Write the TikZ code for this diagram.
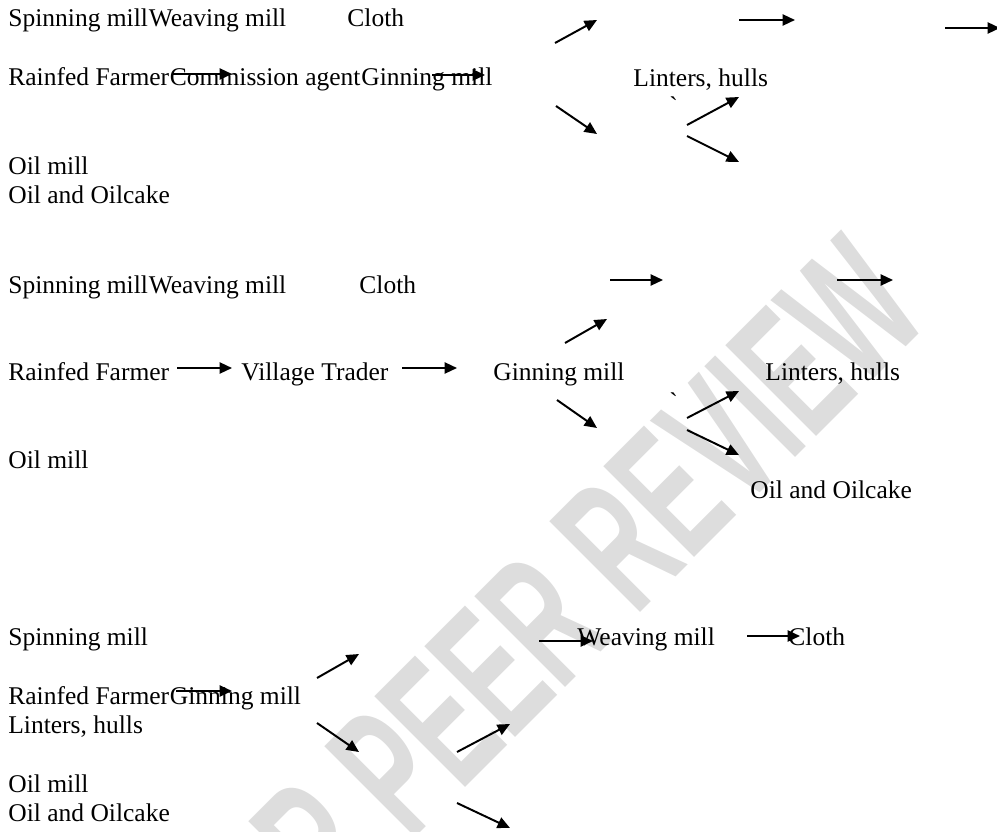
\documentclass[tikz,border=0pt]{standalone}
\usepackage{fontspec}
\setmainfont{Liberation Serif}
\newfontfamily\gravefont{Liberation Serif}[Ligatures=TeXOff]
\newfontfamily\stampfont{Liberation Sans}
\usetikzlibrary{arrows.meta,positioning}
\definecolor{stampgray}{HTML}{DDDDDD}

\begin{document}
\begin{tikzpicture}[x=0.01695cm,y=-0.01695cm,>={Triangle[length=6pt,width=5.4pt]},font=\fontsize{12.3pt}{14pt}\selectfont]
\tikzset{lbl/.style={anchor=base west,inner sep=0pt},
  flow/.style={->,line width=0.95pt}}
\useasboundingbox (0,0) rectangle (997,832);
% watermark behind everything
\node[rotate=45,text=stampgray,inner sep=0pt,font=\stampfont\bfseries\fontsize{90pt}{90pt}\selectfont] (stamp) at (536,626) {\scalebox{0.57}[1]{FOR PEER REVIEW}};
% first chain
\node[lbl] (spinA) at (8,27) {Spinning mill};
\node[lbl,base right=0pt of spinA] (weaveA) {Weaving mill};
\node[lbl] (clothA) at (347,27) {Cloth};
\node[lbl] (farmerA) at (8,86) {Rainfed Farmer};
\node[lbl,base right=0pt of farmerA] (agentA) {Commission agent};
\node[lbl,base right=0pt of agentA] (ginA) {Ginning mill};
\node[lbl] (lintA) at (633,87) {Linters, hulls};
\node[lbl] (tickA) at (669,115) {\gravefont `};
\node[lbl] (oilA) at (8,175) {Oil mill};
\node[lbl] (cakeA) at (8,203) {Oil and Oilcake};
% second chain
\node[lbl] (spinB) at (8,293) {Spinning mill};
\node[lbl,base right=0pt of spinB] (weaveB) {Weaving mill};
\node[lbl] (clothB) at (359,293) {Cloth};
\node[lbl] (farmerB) at (8,380) {Rainfed Farmer};
\node[lbl] (traderB) at (241,380) {Village Trader};
\node[lbl] (ginB) at (493,380) {Ginning mill};
\node[lbl] (lintB) at (765,380) {Linters, hulls};
\node[lbl] (tickB) at (669,410) {\gravefont `};
\node[lbl] (oilB) at (8,468) {Oil mill};
\node[lbl] (cakeB) at (750,498) {Oil and Oilcake};
% third chain
\node[lbl] (spinC) at (8,645) {Spinning mill};
\node[lbl] (weaveC) at (577,645) {Weaving mill};
\node[lbl] (clothC) at (788,645) {Cloth};
\node[lbl] (farmerC) at (8,704) {Rainfed Farmer};
\node[lbl,base right=0pt of farmerC] (ginC) {Ginning mill};
\node[lbl] (lintC) at (8,733) {Linters, hulls};
\node[lbl] (oilC) at (8,792) {Oil mill};
\node[lbl] (cakeC) at (8,821) {Oil and Oilcake};
% arrows
\foreach \xa/\ya/\xb/\yb in {173/74/232/74, 432/75/485/75, 555/43/597/20, 739/20/795/20,
  945/28/1000/28, 556/106/597/134, 687/125/739/97, 687/136/739/162,
  177/368/232/368, 402/368/457/368, 610/280/663/280, 837/280/893/280,
  565/343/607/319, 557/400/597/428, 687/418/739/391, 687/430/739/455,
  176/691/232/691, 317/678/359/654, 317/723/359/752, 457/752/510/724,
  457/803/510/828, 539/641/593/641, 747/636/800/636}
  {\draw[flow] (\xa,\ya) -- (\xb,\yb);}
\end{tikzpicture}
\end{document}
